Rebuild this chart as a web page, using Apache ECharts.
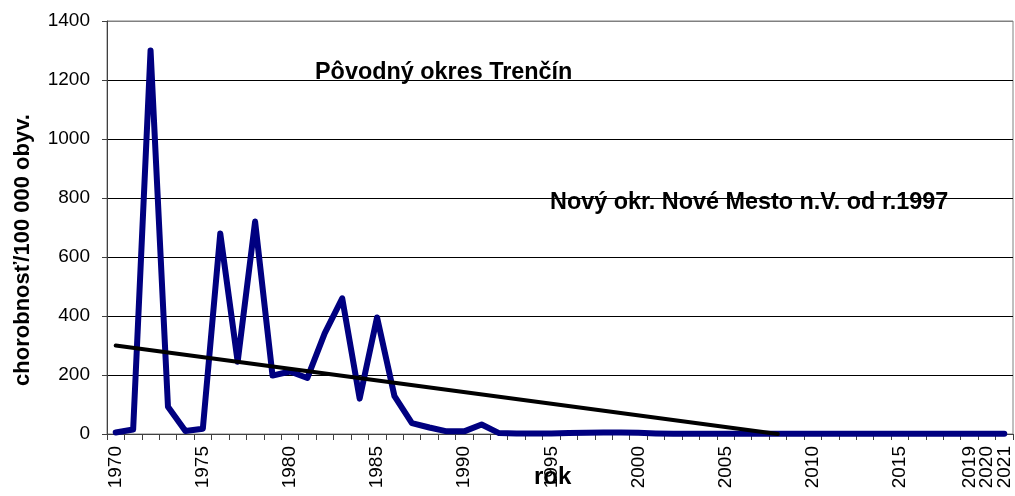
<!DOCTYPE html>
<html>
<head>
<meta charset="utf-8">
<script src="https://cdn.jsdelivr.net/npm/echarts@6/dist/echarts.min.js"></script>
<style>
html, body { margin: 0; padding: 0; background: #fff; }
#chart { width: 1015px; height: 496px; }
</style>
</head>
<body>
<div id="chart"></div>
<script>
// roky na osi x
var years = ['1970','1971','1972','1973','1974','1975','1976','1977','1978','1979',
	'1980','1981','1982','1983','1984','1985','1986','1987','1988','1989',
	'1990','1991','1992','1993','1994','1995','1996','1997','1998','1999',
	'2000','2001','2002','2003','2004','2005','2006','2007','2008','2009',
	'2010','2011','2012','2013','2014','2015','2016','2017','2018','2019',
	'2020','2021'];

// chorobnost na 100 000 obyv.
var morbidity = [5, 15, 1300, 92, 10, 18, 680, 245, 720, 198,
	212, 190, 342, 460, 120, 395, 128, 37, 22, 9,
	9, 32, 3, 2, 2, 2, 3, 4, 5, 5,
	4, 2, 1, 1, 1, 1, 1, 1, 1, 1,
	1, 1, 1, 1, 1, 1, 1, 1, 1, 1,
	1, 1];

// linearny trend (koncove body)
var trend = [];
trend[0] = 300;
trend[38] = 0;

// popisky osi x (rozdelene na dve osi, aby sa susedne roky neskryli)
var labelsA = ['1970','1975','1980','1985','1990','1995','2000','2005','2010','2015','2020'];
var labelsB = ['2019','2021'];

var yTicks = { min: 0, max: 1400, step: 200 };

var FONT = '"Liberation Sans", Arial, sans-serif';

var chart = echarts.init(document.getElementById('chart'));

var trendData = years.map(function(y, i) {
	return trend[i] === undefined ? null : trend[i];
});

function labelAxis(list, visible) {
	return {
		type: 'category',
		position: 'bottom',
		data: years,
		boundaryGap: true,
		axisLine: { show: visible, lineStyle: { color: '#404040', width: 1 } },
		axisTick: { show: visible, interval: 0, length: 6, lineStyle: { color: '#404040' } },
		axisLabel: {
			rotate: 90,
			margin: 12,
			color: '#000',
			fontFamily: FONT,
			fontSize: 19,
			hideOverlap: false,
			showMaxLabel: true,
			interval: function(index, value) {
				return list.indexOf(value) >= 0;
			}
		},
		splitLine: { show: false }
	};
}

var option = {
	animation: false,
	backgroundColor: '#fff',
	grid: {
		left: 107,
		right: 2,
		top: 21,
		bottom: 62,
		show: true,
		borderColor: '#808080',
		borderWidth: 1
	},
	xAxis: [labelAxis(labelsA, true), labelAxis(labelsB, false)],
	yAxis: {
		type: 'value',
		min: yTicks.min,
		max: yTicks.max,
		interval: yTicks.step,
		axisLine: { show: true, lineStyle: { color: '#404040', width: 1 } },
		axisTick: { show: true, length: 5, lineStyle: { color: '#404040' } },
		axisLabel: {
			color: '#000', fontFamily: FONT, fontSize: 19, margin: 17,
			formatter: function(v) { return String(v); }
		},
		splitLine: {
			show: true,
			lineStyle: { color: ['#000','#000','#000','#000','#000','#000','#000','#808080'], width: 1 }
		}
	},
	graphic: [
		{ type: 'text', x: 23, y: 250, rotation: Math.PI / 2,
			style: { text: 'chorobnosť/100 000 obyv.', font: 'bold 22px ' + FONT, fill: '#000', align: 'center', verticalAlign: 'middle' } },
		{ type: 'text', x: 315, y: 73, style: { text: 'Pôvodný okres Trenčín', font: 'bold 23.4px ' + FONT, fill: '#000', verticalAlign: 'middle' } },
		{ type: 'text', x: 550, y: 203, style: { text: 'Nový okr. Nové Mesto n.V. od r.1997', font: 'bold 23.4px ' + FONT, fill: '#000', verticalAlign: 'middle' } },
		{ type: 'text', x: 534, y: 477, style: { text: 'rok', font: 'bold 24px ' + FONT, fill: '#000', verticalAlign: 'middle' } }
	],
	series: [
		{
			type: 'line',
			xAxisIndex: 0,
			data: morbidity,
			symbol: 'none',
			lineStyle: { color: '#000080', width: 6, join: 'round', cap: 'round' }
		},
		{
			type: 'line',
			xAxisIndex: 0,
			data: trendData,
			connectNulls: true,
			symbol: 'none',
			lineStyle: { color: '#000', width: 4, cap: 'round' }
		}
	]
};

chart.setOption(option);
</script>
</body>
</html>
